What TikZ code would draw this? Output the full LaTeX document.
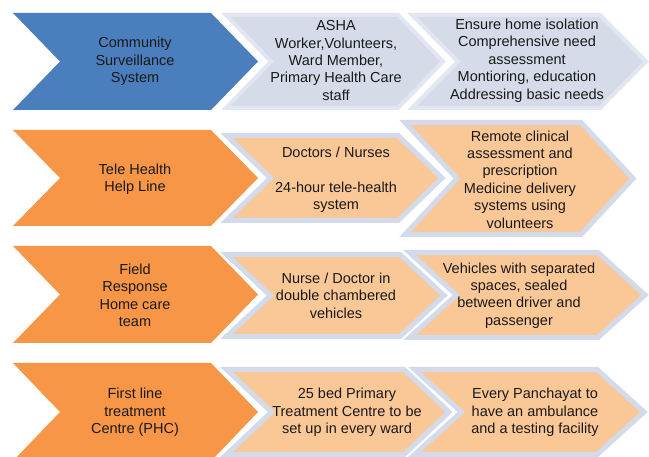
\documentclass[tikz,border=0pt]{standalone}
\usepackage{fontspec}
\setmainfont{Liberation Sans}
\definecolor{cblue}{HTML}{4A7EBD}
\definecolor{corange}{HTML}{F79646}
\definecolor{cpale}{HTML}{FAC796}
\definecolor{clav}{HTML}{D3DAE9}
\definecolor{clavfill}{HTML}{D5DBE9}
\definecolor{clavedge}{HTML}{E1E6F1}
\definecolor{ctext}{HTML}{1A1A1A}
\newcommand\drawchev[6]{%
  \path[#1] (#2,#5) -- (#3,#5) -- (#4,{(#5+#6)/2}) -- (#3,#6) -- (#2,#6) -- ({#2+#4-#3},{(#5+#6)/2}) -- cycle;}
\tikzset{
  headchev/.style={fill=#1},
  bluechev/.style={fill=clavfill, draw=clavedge, line width=4pt},
  palechev/.style={fill=cpale, draw=clav, line width=5pt},
  txt/.style={align=center, text=ctext, font=\fontsize{14.5}{17.4}\selectfont, inner sep=0pt},
}
\begin{document}
\begin{tikzpicture}[x=1pt,y=-1pt]
\useasboundingbox[fill=white] (0,0) rectangle (649,457);
% Row 1
\drawchev{headchev=cblue}{13}{211}{258}{13}{110}
\drawchev{bluechev}{226}{398}{443}{15}{108}
\drawchev{bluechev}{412}{600}{646}{15}{108}
\node[txt] (a1) at (135,61.5) {Community\\Surveillance\\System};
\node[txt] (b1) at (336,60.5) {ASHA\\Worker,Volunteers,\\Ward Member,\\Primary Health Care\\staff};
\node[txt] (c1) at (527,60.5) {Ensure home isolation\\Comprehensive need\\assessment\\Montioring, education\\Addressing basic needs};
% Row 2
\drawchev{headchev=corange}{13}{211}{258}{130}{226}
\drawchev{palechev}{226.5}{398}{442}{135.5}{220.5}
\drawchev{palechev}{405}{581}{633}{122.5}{234.5}
\node[txt] (a2) at (135,179) {Tele Health\\Help Line};
\node[txt] (b2) at (336,180) {Doctors / Nurses\\[17.4pt]24-hour tele-health\\system};
\node[txt] (c2) at (520,179.5) {Remote clinical\\assessment and\\prescription\\Medicine delivery\\systems using\\volunteers};
% Row 3
\drawchev{headchev=corange}{13}{211}{258}{246}{343}
\drawchev{palechev}{226.5}{400}{444}{254.5}{336.5}
\drawchev{palechev}{409.5}{598}{645}{252.5}{337.5}
\node[txt] (a3) at (135,295.5) {Field\\Response\\Home care\\team};
\node[txt] (b3) at (336,295.5) {Nurse / Doctor in\\double chambered\\vehicles};
\node[txt] (c3) at (519,295.5) {Vehicles with separated\\spaces, sealed\\between driver and\\passenger};
% Row 4
\drawchev{headchev=corange}{13}{211}{258}{363}{461}
\drawchev{palechev}{226.5}{404}{449}{369.5}{454.5}
\drawchev{palechev}{414.5}{597}{644}{369.5}{454.5}
\node[txt] (a4) at (135,412.5) {First line\\treatment\\Centre (PHC)};
\node[txt] (b4) at (347,412.5) {25 bed Primary\\Treatment Centre to be\\set up in every ward};
\node[txt] (c4) at (535,412.5) {Every Panchayat to\\have an ambulance\\and a testing facility};
\end{tikzpicture}
\end{document}
